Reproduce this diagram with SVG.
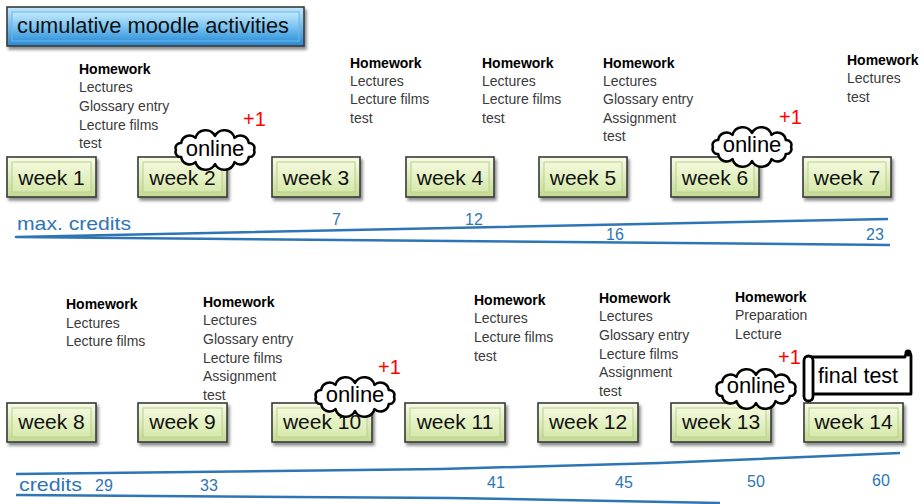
<svg xmlns="http://www.w3.org/2000/svg" xmlns:xlink="http://www.w3.org/1999/xlink" width="924" height="504" viewBox="0 0 924 504">
<defs>
  <linearGradient id="gOut" x1="0" y1="0" x2="0" y2="1">
    <stop offset="0" stop-color="#f8fce8"/>
    <stop offset="1" stop-color="#c4da92"/>
  </linearGradient>
  <linearGradient id="gFace" x1="0" y1="0" x2="0" y2="1">
    <stop offset="0" stop-color="#f3f9dc"/>
    <stop offset="1" stop-color="#d6e9ab"/>
  </linearGradient>
  <linearGradient id="bOut" x1="0" y1="0" x2="0" y2="1">
    <stop offset="0" stop-color="#c0e8fc"/>
    <stop offset="1" stop-color="#2a8ad4"/>
  </linearGradient>
  <linearGradient id="bFace" x1="0" y1="0" x2="0" y2="1">
    <stop offset="0" stop-color="#c4eafd"/>
    <stop offset="0.5" stop-color="#7cc4f2"/>
    <stop offset="1" stop-color="#3596dc"/>
  </linearGradient>
  <filter id="sh" x="-10%" y="-10%" width="125%" height="140%">
    <feDropShadow dx="2" dy="3" stdDeviation="1.8" flood-color="#000" flood-opacity="0.45"/>
  </filter>
  <path id="cloud" d="M-39,0 A5,5 0 0 1 -33.8,-7 A8.5,8.5 0 0 1 -19.5,-12.1 A10.5,10.5 0 0 1 0,-14 A10.5,10.5 0 0 1 19.5,-12.1 A8.5,8.5 0 0 1 33.8,-7 A5,5 0 0 1 39,0 A5,5 0 0 1 33.8,7 A8.5,8.5 0 0 1 19.5,12.1 A10.5,10.5 0 0 1 0,14 A10.5,10.5 0 0 1 -19.5,12.1 A8.5,8.5 0 0 1 -33.8,7 A5,5 0 0 1 -39,0 Z"/>
</defs>
<style>
  .box { fill: url(#gOut); stroke: #3a3a3a; stroke-width: 1.6; filter: url(#sh); }
  .face { fill: url(#gFace); stroke: #b9cf8c; stroke-width: 1; }
  .wk { font-family: "Liberation Sans", Arial, sans-serif; font-size: 21px; fill: #111; text-anchor: middle; }
  .hw { font-family: "Liberation Sans", Arial, sans-serif; font-size: 14px; font-weight: bold; fill: #000; }
  .it { font-family: "Liberation Sans", Arial, sans-serif; font-size: 14px; fill: #3a3a3a; }
  .cl { fill: #fff; stroke: #000; stroke-width: 2.5; stroke-linejoin: round; }
  .on { font-family: "Liberation Sans", Arial, sans-serif; font-size: 22px; fill: #000; text-anchor: middle; }
  .p1 { font-family: "Liberation Sans", Arial, sans-serif; font-size: 20px; fill: #ff0000; }
  .cr { font-family: "Liberation Sans", Arial, sans-serif; font-size: 19px; fill: #2e75b6; }
  .num { font-family: "Liberation Sans", Arial, sans-serif; font-size: 16px; fill: #2e75b6; }
  .ln { fill: none; stroke: #2e75b6; stroke-width: 2.5; stroke-linejoin: round; }
</style>

<g id="title">
  <rect x="7" y="7" width="297" height="39" fill="url(#bOut)" stroke="#3a3a3a" stroke-width="1.6" filter="url(#sh)"/>
  <rect x="12" y="12" width="287" height="29" fill="url(#bFace)" stroke="#6cb8ea" stroke-width="1"/>
  <text x="17" y="33" font-family="Liberation Sans, Arial, sans-serif" font-size="22" fill="#111" textLength="272" lengthAdjust="spacingAndGlyphs">cumulative moodle activities</text>
</g>

<g id="credit-lines">
  <polyline class="ln" points="888,219 16,237 890,245"/>
  <polyline class="ln" points="900,453 660,463 441,469 16,474"/>
  <polyline class="ln" points="16,495 450,498 720,503"/>
</g>

<g id="credit-labels">
  <text class="cr" x="17" y="230" textLength="114" lengthAdjust="spacingAndGlyphs">max. credits</text>
  <text class="num" x="332" y="225">7</text>
  <text class="num" x="465" y="225">12</text>
  <text class="num" x="606" y="240">16</text>
  <text class="num" x="866" y="240">23</text>
  <text class="cr" x="19" y="491" textLength="63" lengthAdjust="spacingAndGlyphs">credits</text>
  <text class="num" x="95" y="491">29</text>
  <text class="num" x="200" y="491">33</text>
  <text class="num" x="487" y="488">41</text>
  <text class="num" x="615" y="488">45</text>
  <text class="num" x="747" y="487">50</text>
  <text class="num" x="872" y="486">60</text>
</g>

<g id="week1">
  <rect class="box" x="7" y="157" width="89" height="40"/>
  <rect class="face" x="12" y="162" width="79" height="30"/>
  <text class="wk" x="51.5" y="185">week 1</text>
  <text class="hw" x="79" y="74">Homework</text>
  <text class="it" x="79" y="92">Lectures</text>
  <text class="it" x="79" y="111">Glossary entry</text>
  <text class="it" x="79" y="130">Lecture films</text>
  <text class="it" x="79" y="148">test</text>
</g>
<g id="week2">
  <rect class="box" x="138" y="157" width="89" height="40"/>
  <rect class="face" x="143" y="162" width="79" height="30"/>
  <text class="wk" x="182.5" y="185">week 2</text>
</g>
<g id="week3">
  <rect class="box" x="272" y="157" width="88" height="40"/>
  <rect class="face" x="277" y="162" width="78" height="30"/>
  <text class="wk" x="316" y="185">week 3</text>
  <text class="hw" x="350" y="68">Homework</text>
  <text class="it" x="350" y="86">Lectures</text>
  <text class="it" x="350" y="104">Lecture films</text>
  <text class="it" x="350" y="123">test</text>
</g>
<g id="week4">
  <rect class="box" x="406" y="157" width="88" height="40"/>
  <rect class="face" x="411" y="162" width="78" height="30"/>
  <text class="wk" x="450" y="185">week 4</text>
  <text class="hw" x="482" y="68">Homework</text>
  <text class="it" x="482" y="86">Lectures</text>
  <text class="it" x="482" y="104">Lecture films</text>
  <text class="it" x="482" y="123">test</text>
</g>
<g id="week5">
  <rect class="box" x="539" y="157" width="88" height="40"/>
  <rect class="face" x="544" y="162" width="78" height="30"/>
  <text class="wk" x="583" y="185">week 5</text>
  <text class="hw" x="603" y="68">Homework</text>
  <text class="it" x="603" y="86">Lectures</text>
  <text class="it" x="603" y="104">Glossary entry</text>
  <text class="it" x="603" y="123">Assignment</text>
  <text class="it" x="603" y="141">test</text>
</g>
<g id="week6">
  <rect class="box" x="671" y="157" width="88" height="40"/>
  <rect class="face" x="676" y="162" width="78" height="30"/>
  <text class="wk" x="715" y="185">week 6</text>
</g>
<g id="week7">
  <rect class="box" x="803" y="157" width="88" height="40"/>
  <rect class="face" x="808" y="162" width="78" height="30"/>
  <text class="wk" x="847" y="185">week 7</text>
  <text class="hw" x="847" y="65">Homework</text>
  <text class="it" x="847" y="83">Lectures</text>
  <text class="it" x="847" y="102">test</text>
</g>

<g id="week8">
  <rect class="box" x="7" y="403" width="89" height="39"/>
  <rect class="face" x="12" y="408" width="79" height="29"/>
  <text class="wk" x="51.5" y="429">week 8</text>
  <text class="hw" x="66" y="309">Homework</text>
  <text class="it" x="66" y="328">Lectures</text>
  <text class="it" x="66" y="346">Lecture films</text>
</g>
<g id="week9">
  <rect class="box" x="138" y="403" width="89" height="39"/>
  <rect class="face" x="143" y="408" width="79" height="29"/>
  <text class="wk" x="182.5" y="429">week 9</text>
  <text class="hw" x="203" y="307">Homework</text>
  <text class="it" x="203" y="325">Lectures</text>
  <text class="it" x="203" y="344">Glossary entry</text>
  <text class="it" x="203" y="363">Lecture films</text>
  <text class="it" x="203" y="381">Assignment</text>
  <text class="it" x="203" y="400">test</text>
</g>
<g id="week10">
  <rect class="box" x="272" y="403" width="100" height="39"/>
  <rect class="face" x="277" y="408" width="90" height="29"/>
  <text class="wk" x="322" y="429">week 10</text>
</g>
<g id="week11">
  <rect class="box" x="405" y="403" width="100" height="39"/>
  <rect class="face" x="410" y="408" width="90" height="29"/>
  <text class="wk" x="455" y="429">week 11</text>
  <text class="hw" x="474" y="305">Homework</text>
  <text class="it" x="474" y="323">Lectures</text>
  <text class="it" x="474" y="342">Lecture films</text>
  <text class="it" x="474" y="361">test</text>
</g>
<g id="week12">
  <rect class="box" x="538" y="403" width="100" height="39"/>
  <rect class="face" x="543" y="408" width="90" height="29"/>
  <text class="wk" x="588" y="429">week 12</text>
  <text class="hw" x="599" y="303">Homework</text>
  <text class="it" x="599" y="321">Lectures</text>
  <text class="it" x="599" y="340">Glossary entry</text>
  <text class="it" x="599" y="359">Lecture films</text>
  <text class="it" x="599" y="377">Assignment</text>
  <text class="it" x="599" y="396">test</text>
</g>
<g id="week13">
  <rect class="box" x="671" y="403" width="100" height="39"/>
  <rect class="face" x="676" y="408" width="90" height="29"/>
  <text class="wk" x="721" y="429">week 13</text>
  <text class="hw" x="735" y="302">Homework</text>
  <text class="it" x="735" y="320">Preparation</text>
  <text class="it" x="735" y="339">Lecture</text>
</g>
<g id="week14">
  <rect class="box" x="804" y="403" width="99" height="39"/>
  <rect class="face" x="809" y="408" width="89" height="29"/>
  <text class="wk" x="853.5" y="429">week 14</text>
</g>

<g id="online-week2">
  <use xlink:href="#cloud" href="#cloud" class="cl" transform="translate(215,150)"/>
  <text class="on" x="215" y="156">online</text>
  <text class="p1" x="243" y="126">+1</text>
</g>
<g id="online-week6">
  <use xlink:href="#cloud" href="#cloud" class="cl" transform="translate(752,147)"/>
  <text class="on" x="752" y="152">online</text>
  <text class="p1" x="779" y="124">+1</text>
</g>
<g id="online-week10">
  <use xlink:href="#cloud" href="#cloud" class="cl" transform="translate(355,397)"/>
  <text class="on" x="355" y="402">online</text>
  <text class="p1" x="378" y="374">+1</text>
</g>
<g id="online-week13">
  <use xlink:href="#cloud" href="#cloud" class="cl" transform="translate(756,389)"/>
  <text class="on" x="756" y="393">online</text>
  <text class="p1" x="778" y="364">+1</text>
</g>

<g id="final-test">
  <path d="M811,357 L905,357 A4,4 0 0 1 909,353 A3,3 0 0 1 911,356 L911,394 L811,394 Z" fill="#fff" stroke="#000" stroke-width="2.8" stroke-linejoin="round"/>
  <circle cx="908" cy="353" r="3.5" fill="#000"/>
  <rect x="804" y="356" width="9" height="45" rx="4.5" fill="#fff" stroke="#000" stroke-width="2.8"/>
  <text x="818" y="383" font-family="Liberation Sans, Arial, sans-serif" font-size="21.5" fill="#000">final test</text>
</g>
</svg>
